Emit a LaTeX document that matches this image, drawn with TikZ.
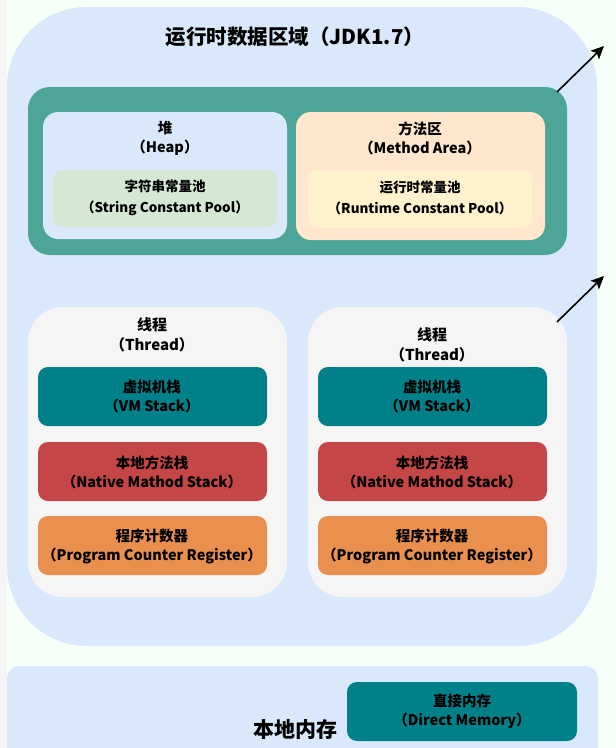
\documentclass[tikz,border=0pt]{standalone}
\usepackage{fontspec}
\setmainfont{Noto Sans CJK SC}
\usetikzlibrary{arrows.meta}
\definecolor{bgc}{HTML}{F6FFF8}
\definecolor{outerblue}{HTML}{DAE8FC}
\definecolor{greenc}{HTML}{4CA597}
\definecolor{poolgreen}{HTML}{D5E8D4}
\definecolor{methodc}{HTML}{FFE6CC}
\definecolor{rtpool}{HTML}{FFF2CC}
\definecolor{threadc}{HTML}{F5F5F5}
\definecolor{tealc}{HTML}{008189}
\definecolor{redc}{HTML}{C44646}
\definecolor{orangec}{HTML}{EA904F}
\tikzset{
  lbl/.style={align=center, font=\fontsize{14.5}{19}\selectfont\bfseries, inner sep=0pt},
  poollbl/.style={align=center, font=\fontsize{13.5}{21}\selectfont\bfseries, inner sep=0pt},
  stackbox/.style={rounded corners=10pt, draw=none},
  arr/.style={-{Stealth[length=13pt,width=12pt,inset=3pt]}, line width=1.6pt, black},
}
\begin{document}
\begin{tikzpicture}[x=1pt,y=-1pt]
\useasboundingbox (0,0) rectangle (616,748);
\fill[bgc] (0,0) rectangle (616,748);
\fill[black!4] (0,0) rectangle (7,748);
% outer runtime data area
\fill[outerblue, rounded corners=80pt] (7,7) rectangle (597,646);
\node[lbl, font=\fontsize{20.5}{24}\selectfont\bfseries] (title) at (295,37) {运行时数据区域（JDK1.7）};
% green shared area
\fill[greenc, rounded corners=22pt] (28,87) rectangle (567,255);
\coordinate (greenne) at (557,92);
\coordinate (arrowtip1) at (604,46);
% heap
\fill[outerblue, rounded corners=15pt] (43,112) rectangle (287,239);
\node[lbl] (heap) at (165,138) {堆\\（Heap）};
\fill[poolgreen, rounded corners=10pt] (53,170) rectangle (277,227);
\node[poollbl] (strpool) at (165,198) {字符串常量池\\（String Constant Pool）};
% method area
\fill[methodc, rounded corners=15pt] (296,112) rectangle (545,240);
\node[lbl] (method) at (420,138) {方法区\\（Method Area）};
\fill[rtpool, rounded corners=10pt] (308,170) rectangle (532,228);
\node[poollbl] (rtp) at (420,198) {运行时常量池\\（Runtime Constant Pool）};
\draw[arr] (greenne) -- (arrowtip1);
% threads
\fill[threadc, rounded corners=35pt] (28,307) rectangle (287,597);
\node[lbl, font=\fontsize{15}{20}\selectfont\bfseries] (thread1) at (152,335) {线程\\（Thread）};
\fill[threadc, rounded corners=35pt] (308,307) rectangle (567,597);
\node[lbl, font=\fontsize{15}{20}\selectfont\bfseries] (thread2) at (432,345) {线程\\（Thread）};
\coordinate (threadne) at (557,322);
\coordinate (arrowtip2) at (604,276);
\draw[arr] (threadne) -- (arrowtip2);
% left stacks
\fill[tealc, stackbox] (38,367) rectangle (267,426);
\node[lbl] (vm1) at (152,397) {虚拟机栈\\（VM Stack）};
\fill[redc, stackbox] (38,442) rectangle (267,501);
\node[lbl] (ns1) at (152,472) {本地方法栈\\（Native Mathod Stack）};
\fill[orangec, stackbox] (38,516) rectangle (267,575);
\node[lbl] (pc1) at (152,546) {程序计数器\\（Program Counter Register）};
% right stacks
\fill[tealc, stackbox] (318,367) rectangle (547,426);
\node[lbl] (vm2) at (432,397) {虚拟机栈\\（VM Stack）};
\fill[redc, stackbox] (318,442) rectangle (547,501);
\node[lbl] (ns2) at (432,472) {本地方法栈\\（Native Mathod Stack）};
\fill[orangec, stackbox] (318,516) rectangle (547,575);
\node[lbl] (pc2) at (432,546) {程序计数器\\（Program Counter Register）};
% native memory
\fill[outerblue, rounded corners=12pt] (7,666) rectangle (598,760);
\node[lbl, font=\fontsize{21}{24}\selectfont\bfseries] (native) at (295,730) {本地内存};
\fill[tealc, stackbox] (347,682) rectangle (577,741);
\node[lbl] (direct) at (462,711) {直接内存\\（Direct Memory）};
\end{tikzpicture}
\end{document}
